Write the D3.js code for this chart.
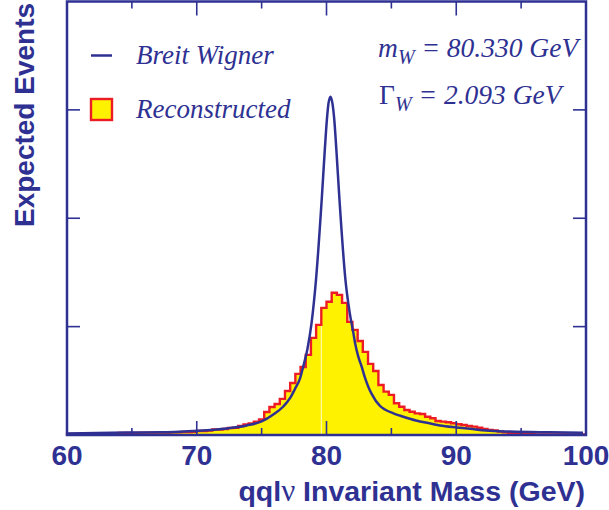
<!DOCTYPE html>
<html>
<head>
<meta charset="utf-8">
<script src="https://cdn.jsdelivr.net/npm/d3@7/dist/d3.min.js"></script>
<style>
  html, body { margin: 0; padding: 0; background: #ffffff; }
  svg { display: block; }
</style>
</head>
<body>
<svg id="chart" width="609" height="510"></svg>
<script>
// ---------------- DATA ----------------
const xMajorTicks = [60, 70, 80, 90, 100];
const xMinorTicks = [65, 75, 85, 95];
const yTicks = [1, 2, 3];

// Reconstructed histogram: 100 bins of 0.4 GeV from 60 to 100 GeV (relative units)
const histStart = 60;
const histBinWidth = 0.4;
const histValues = [
  0.010, 0.010, 0.010, 0.010, 0.010, 0.014, 0.014, 0.014, 0.014, 0.014,
  0.018, 0.018, 0.018, 0.018, 0.022, 0.022, 0.022, 0.022, 0.023, 0.023,
  0.025, 0.025, 0.028, 0.028, 0.030, 0.037, 0.037, 0.040, 0.051, 0.051,
  0.055, 0.065, 0.067, 0.083, 0.097, 0.106, 0.123, 0.143, 0.212, 0.259,
  0.286, 0.333, 0.406, 0.480, 0.564, 0.628, 0.739, 0.896, 1.016, 1.173,
  1.229, 1.312, 1.293, 1.219, 1.044, 0.970, 0.868, 0.767, 0.656, 0.591,
  0.462, 0.400, 0.370, 0.293, 0.261, 0.231, 0.215, 0.200, 0.194, 0.169,
  0.154, 0.129, 0.123, 0.117, 0.108, 0.099, 0.092, 0.083, 0.077, 0.067,
  0.055, 0.046, 0.042, 0.032, 0.025, 0.018, 0.014, 0.010, 0.010, 0.010,
  0.006, 0.006, 0.006, 0.006, 0.006, 0.006, 0.006, 0.006, 0.006, 0.006
];

// Breit-Wigner curve, points
const bwMass = [
  60.0, 64.6, 67.2, 69.7, 72.3, 73.85, 75.0, 75.9, 76.67, 77.2,
  77.57, 77.96, 78.2, 78.53, 78.84, 79.19, 79.63, 79.87, 80.03, 80.15,
  80.31, 80.46, 80.60, 80.76, 81.0, 81.46, 81.79, 82.07, 82.2, 82.45,
  82.71, 82.97, 83.22, 83.48, 84.12, 84.5, 85.15, 85.92, 86.9, 88.0,
  88.75, 90.03, 91.06, 92.3, 94.14, 97.22, 99.77
];
const bwValue = [
  0.014, 0.023, 0.025, 0.037, 0.060, 0.088, 0.125, 0.189, 0.263, 0.342,
  0.425, 0.522, 0.628, 0.794, 1.025, 1.432, 2.171, 2.633, 2.910, 3.058,
  3.122, 3.058, 2.910, 2.633, 2.171, 1.432, 1.127, 0.942, 0.850, 0.723,
  0.631, 0.527, 0.446, 0.379, 0.268, 0.235, 0.200, 0.169, 0.134, 0.106,
  0.087, 0.069, 0.057, 0.042, 0.032, 0.025, 0.021
];

const legendLabels = ["Breit Wigner", "Reconstructed"];
const massLabel = { sym: "m", sub: "W", rest: " = 80.330 GeV" };
const widthLabel = { sym: "\u0393", sub: "W", rest: " = 2.093 GeV" };
const xTitle = ["qql", "\u03bd", " Invariant Mass (GeV)"];
const yTitle = "Expected Events";

// ---------------- STYLE ----------------
const navy = "#2e3192";
const yellow = "#fff200";
const red = "#ed1c24";
const sans = "'Liberation Sans', Arial, Helvetica, sans-serif";
const serif = "'Liberation Serif', 'Times New Roman', Times, serif";

const pL = 67, pR = 586, pT = 1.5, pB = 435;

const svg = d3.select("#chart");
const x = d3.scaleLinear().domain([60, 100]).range([pL, pR]);
const y = d3.scaleLinear().domain([0, 4]).range([pB, pT]);

// ---------------- HISTOGRAM ----------------
const histData = histValues.map((v, i) => ({ lo: histStart + i * histBinWidth, v }));
histData.push({ lo: 100, v: histValues[histValues.length - 1] });

const area = d3.area()
  .x(d => x(d.lo)).y0(y(0)).y1(d => y(d.v))
  .curve(d3.curveStepAfter);
svg.append("path").datum(histData)
  .attr("d", area)
  .attr("fill", yellow);

// faint seam in the fill
const seamBin = 49;
svg.append("line")
  .attr("x1", x(histData[seamBin].lo)).attr("x2", x(histData[seamBin].lo))
  .attr("y1", y(0)).attr("y2", y(histValues[seamBin - 1]))
  .attr("stroke", "#fffbe0").attr("stroke-width", 0.9);

const stepLine = d3.line()
  .x(d => x(d.lo)).y(d => y(d.v))
  .curve(d3.curveStepAfter);
const histOutline = [{ lo: 60, v: 0 }].concat(histData);
svg.append("path").datum(histOutline)
  .attr("d", stepLine)
  .attr("fill", "none")
  .attr("stroke", red)
  .attr("stroke-width", 2.4)
  .attr("stroke-linejoin", "miter");

// ---------------- BREIT-WIGNER ----------------
const bwData = bwMass.map((m, i) => ({ m, v: bwValue[i] }));
const bwLine = d3.line()
  .x(d => x(d.m)).y(d => y(d.v))
  .curve(d3.curveMonotoneX);
svg.append("path").datum(bwData)
  .attr("d", bwLine)
  .attr("fill", "none")
  .attr("stroke", navy)
  .attr("stroke-width", 2.5);

// ---------------- FRAME & TICKS ----------------
const frame = svg.append("g");
frame.append("rect")
  .attr("x", pL).attr("y", pT)
  .attr("width", pR - pL).attr("height", pB - pT)
  .attr("fill", "none").attr("stroke", navy).attr("stroke-width", 2.5);

const tickW = 1.6;
function xTick(v, len) {
  frame.append("line").attr("x1", x(v)).attr("x2", x(v))
    .attr("y1", pB).attr("y2", pB - len)
    .attr("stroke", navy).attr("stroke-width", tickW);
  frame.append("line").attr("x1", x(v)).attr("x2", x(v))
    .attr("y1", pT).attr("y2", pT + len)
    .attr("stroke", navy).attr("stroke-width", tickW);
}
xMajorTicks.filter(v => v > 60 && v < 100).forEach(v => xTick(v, 14));
xMinorTicks.forEach(v => xTick(v, 7));
yTicks.forEach(v => {
  frame.append("line").attr("x1", pL).attr("x2", pL + 13)
    .attr("y1", y(v)).attr("y2", y(v))
    .attr("stroke", navy).attr("stroke-width", tickW);
  frame.append("line").attr("x1", pR).attr("x2", pR - 13)
    .attr("y1", y(v)).attr("y2", y(v))
    .attr("stroke", navy).attr("stroke-width", tickW);
});

// tick labels
svg.append("g").selectAll("text").data(xMajorTicks).join("text")
  .attr("x", d => x(d)).attr("y", 465)
  .attr("text-anchor", "middle")
  .attr("font-family", sans).attr("font-weight", "bold")
  .attr("font-size", 28).attr("fill", navy)
  .text(d => d);

// axis titles
const xt = svg.append("text")
  .attr("x", 585).attr("y", 501)
  .attr("text-anchor", "end")
  .attr("font-family", sans).attr("font-weight", "bold")
  .attr("font-size", 28.5).attr("fill", navy);
xt.append("tspan").text(xTitle[0]);
xt.append("tspan").attr("font-family", serif).attr("font-weight", "normal").attr("font-size", 31).text(xTitle[1]);
xt.append("tspan").text(xTitle[2]);

svg.append("text")
  .attr("transform", "translate(34,115) rotate(-90)")
  .attr("text-anchor", "middle")
  .attr("font-family", sans).attr("font-weight", "bold")
  .attr("font-size", 28).attr("fill", navy)
  .text(yTitle);

// ---------------- LEGEND ----------------
svg.append("line").attr("x1", 91).attr("x2", 112)
  .attr("y1", 55.5).attr("y2", 55.5)
  .attr("stroke", navy).attr("stroke-width", 2.5);
svg.append("text").attr("x", 136).attr("y", 64)
  .attr("font-family", serif).attr("font-style", "italic")
  .attr("font-size", 27).attr("fill", navy)
  .text(legendLabels[0]);
svg.append("rect").attr("x", 91).attr("y", 99)
  .attr("width", 21).attr("height", 21)
  .attr("fill", yellow).attr("stroke", red).attr("stroke-width", 2.4);
svg.append("text").attr("x", 136).attr("y", 118)
  .attr("font-family", serif).attr("font-style", "italic")
  .attr("font-size", 27).attr("fill", navy)
  .text(legendLabels[1]);

// ---------------- ANNOTATIONS ----------------
function annot(lbl, xPos, yPos, symItalic) {
  const t = svg.append("text").attr("x", xPos).attr("y", yPos)
    .attr("font-family", serif).attr("font-size", 27.5).attr("fill", navy);
  t.append("tspan").attr("font-style", symItalic ? "italic" : "normal").text(lbl.sym);
  t.append("tspan").attr("font-style", "italic").attr("font-size", 20).attr("dy", 7).text(lbl.sub);
  t.append("tspan").attr("font-style", "italic").attr("dy", -7).text(lbl.rest);
}
annot(massLabel, 378, 57, true);
annot(widthLabel, 379, 104, false);
</script>
</body>
</html>
